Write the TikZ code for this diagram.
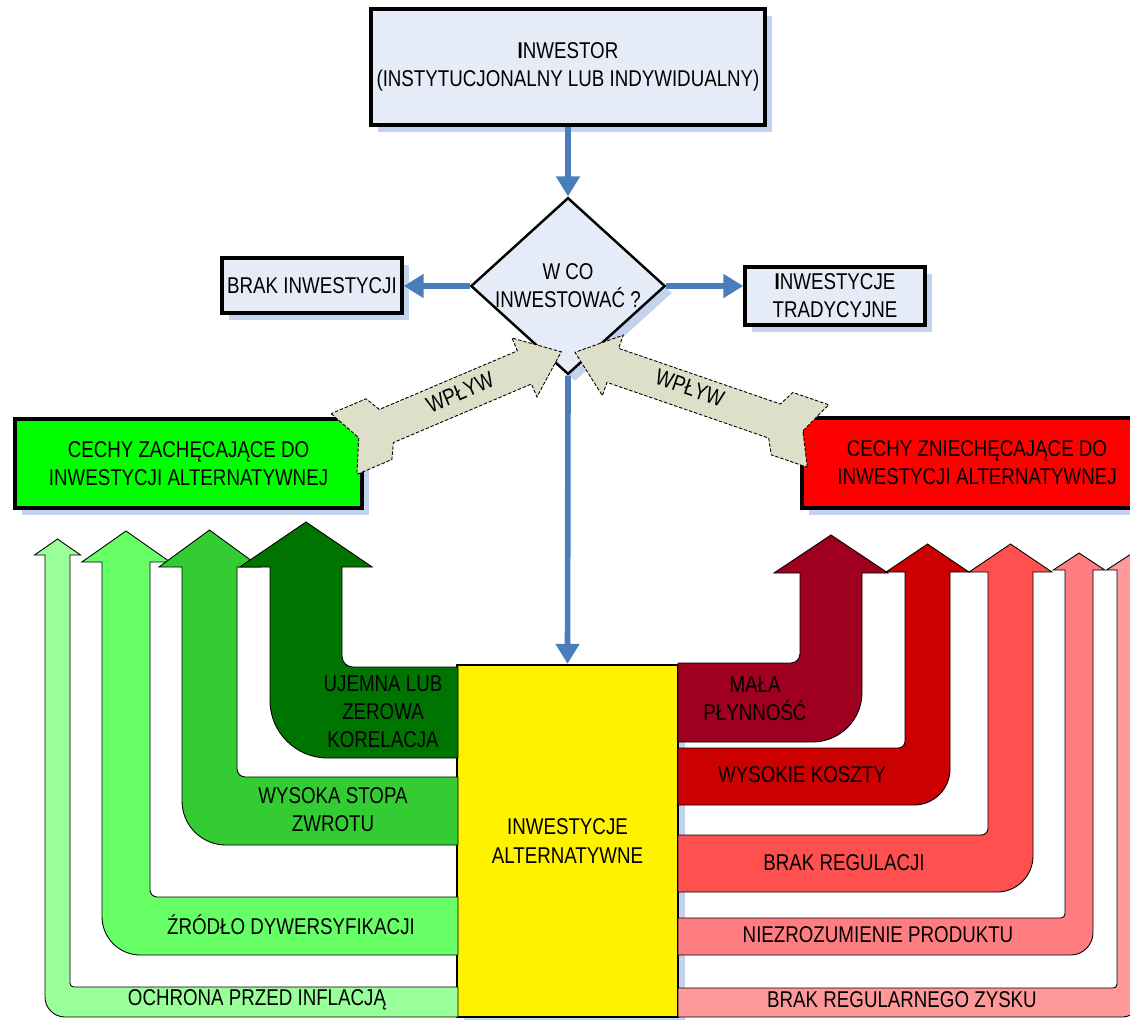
\documentclass[tikz,border=0pt]{standalone}
\usepackage{fontspec}
\setmainfont{Liberation Sans}[FakeStretch=0.82]
\usepackage{xcolor}
\usepackage{tikz}
\usetikzlibrary{arrows.meta}
\usetikzlibrary{positioning}
\usetikzlibrary{shapes.geometric, shadows}
\definecolor{boxfill}{HTML}{E6ECF7}
\definecolor{shadowblue}{HTML}{C3D3EE}
\definecolor{linkblue}{HTML}{4A7EBB}
\definecolor{wplyw}{HTML}{DDDFC8}
\definecolor{gA}{HTML}{007400}
\definecolor{gB}{HTML}{33CC33}
\definecolor{gC}{HTML}{66FF66}
\definecolor{gD}{HTML}{99FF99}
\definecolor{rA}{HTML}{A00020}
\definecolor{rB}{HTML}{CC0000}
\definecolor{rC}{HTML}{FF5050}
\definecolor{rD}{HTML}{FF7C80}
\definecolor{rE}{HTML}{FF9999}
\tikzstyle{box} = [rectangle, draw=black, line width=2pt, fill=boxfill, align=center, inner sep=0pt, drop shadow={shadow xshift=0.14cm, shadow yshift=-0.14cm, fill=shadowblue, opacity=1}]
\tikzstyle{arrow} = [line width=3.2pt, draw=linkblue, -{Triangle[length=0.4cm,width=0.46cm]}]
\tikzstyle{bandarrow} = [draw=black, line width=0.5pt]
\tikzstyle{influence} = [draw=black, dash pattern=on 2pt off 1pt, line width=0.5pt, fill=wplyw]
\tikzstyle{lbl} = [align=center, inner sep=0pt]

% bent arrow: colour, band top, band bottom, inner x, outer x, head base, tip, box edge
\newcommand{\bentarrow}[8]{%
  \pgfmathsetmacro{\asg}{sign(#5-#4)}
  \pgfmathsetmacro{\aw}{abs(#5-#4)}
  \pgfmathsetmacro{\ah}{0.42*\aw}
  \pgfmathsetmacro{\ari}{0.15*\aw}
  \pgfmathsetmacro{\aro}{0.8*\aw}
  \filldraw[bandarrow, fill=#1] (#8,#2) -- ({#4-\asg*\ari},#2) .. controls ({#4-\asg*0.448*\ari},#2) and (#4,{#2-0.448*\ari}) .. (#4,{#2-\ari})
    -- (#4,#6) -- ({#4-\asg*\ah},#6) -- ({(#4+#5)/2},#7) -- ({#5+\asg*\ah},#6) -- (#5,#6)
    -- (#5,{#3-\aro}) .. controls (#5,{#3-0.448*\aro}) and ({#5-\asg*0.448*\aro},#3) .. ({#5-\asg*\aro},#3) -- (#8,#3) -- cycle;
}
% influence arrow: tail position, angle, length
\newcommand{\wplywarrow}[3]{%
  \begin{scope}[shift={#1}, rotate=#2]
    \filldraw[influence] (0,-33) -- (16,0) -- (0,33) -- (38,33) -- (46,18) -- ({#3-40},18) -- ({#3-40},32) -- (#3,0)
      -- ({#3-40},-32) -- ({#3-40},-18) -- (46,-18) -- (38,-33) -- cycle;
  \end{scope}
}

\begin{document}
\begin{tikzpicture}[x=0.02cm, y=-0.02cm, every node/.style={font=\fontsize{13}{16}\selectfont}]
    \useasboundingbox (0,0) rectangle (1130,1019);

    % top of the chart
    \node(inv)[box, minimum width=7.88cm, minimum height=2.32cm] at (568,67) {\textbf{I}NWESTOR\\(INSTYTUCJONALNY LUB INDYWIDUALNY)};
    \node(q)[diamond, draw=black, line width=1.4pt, fill=boxfill, align=center, inner sep=0pt, aspect=1.1, minimum width=3.84cm, minimum height=3.44cm, drop shadow={shadow xshift=0.14cm, shadow yshift=-0.14cm, fill=shadowblue, opacity=1}] at (568,286) {W CO\\INWESTOWAĆ ?};
    \node(none)[box, minimum width=3.6cm, minimum height=1.1cm] at (312,285.5) {BRAK INWESTYCJI};
    \node(trad)[box, minimum width=3.6cm, minimum height=1.16cm] at (835,296) {\textbf{I}NWESTYCJE\\TRADYCYJNE};
    \node(pro)[box, fill=green, minimum width=6.94cm, minimum height=1.78cm] at (188.5,463.5) {CECHY ZACHĘCAJĄCE DO\\INWESTYCJI ALTERNATYWNEJ};
    \node(con)[box, fill=red, minimum width=7.0cm, minimum height=1.8cm] at (977,463) {CECHY ZNIECHĘCAJĄCE DO\\INWESTYCJI ALTERNATYWNEJ};
    \node(alt)[box, fill=yellow, line width=1.4pt, minimum width=4.42cm, minimum height=7.04cm] at (567.5,841) {INWESTYCJE\\ALTERNATYWNE};

    \draw[arrow](inv.south) -- (q.north);
    \draw[arrow](q.west) -- (q.west -| none.east);
    \draw[arrow](q.east) -- (q.east -| trad.west);
    \draw[arrow](q.south) -- (alt.north);

    % influence arrows
    \wplywarrow{(344,444)}{23}{236}
    \wplywarrow{(818,436)}{161}{257}
    \node(wl)[rotate=23] at (460,392) {WPŁYW};
    \node(wr)[rotate=-19] at (690,388) {WPŁYW};

    % encouraging features
    \bentarrow{gD}{987}{1017}{70}{45}{555}{539}{458}
    \bentarrow{gC}{897}{955}{150}{102}{562}{531}{458}
    \bentarrow{gB}{777}{845}{237}{182}{567}{530}{458}
    \bentarrow{gA}{667}{758}{342}{270}{567}{522}{458}
    \node(corr)[lbl] at (383,712) {UJEMNA LUB\\ZEROWA\\KORELACJA};
    \node(ret)[lbl] at (333,810) {WYSOKA STOPA\\ZWROTU};
    \node(div)[lbl] at (291,925) {ŹRÓDŁO DYWERSYFIKACJI};
    \node(infl)[lbl] at (257,1000) {OCHRONA PRZED INFLACJĄ};

    % discouraging features
    \bentarrow{rE}{988}{1017}{1117}{1142}{570}{555}{678}
    \bentarrow{rD}{918}{955}{1065}{1093}{570}{553}{678}
    \bentarrow{rC}{835}{892}{988}{1033}{572}{544}{678}
    \bentarrow{rB}{748}{805}{905}{950}{572}{544}{678}
    \bentarrow{rA}{663}{742}{800}{862}{573}{535}{678}
    \node(liq)[lbl] at (755,699) {MAŁA\\PŁYNNOŚĆ};
    \node(cost)[lbl] at (802,775) {WYSOKIE KOSZTY};
    \node(reg)[lbl] at (844,863) {BRAK REGULACJI};
    \node(prod)[lbl] at (878,935) {NIEZROZUMIENIE PRODUKTU};
    \node(prof)[lbl] at (902,1000) {BRAK REGULARNEGO ZYSKU};
  \end{tikzpicture}
\end{document}
